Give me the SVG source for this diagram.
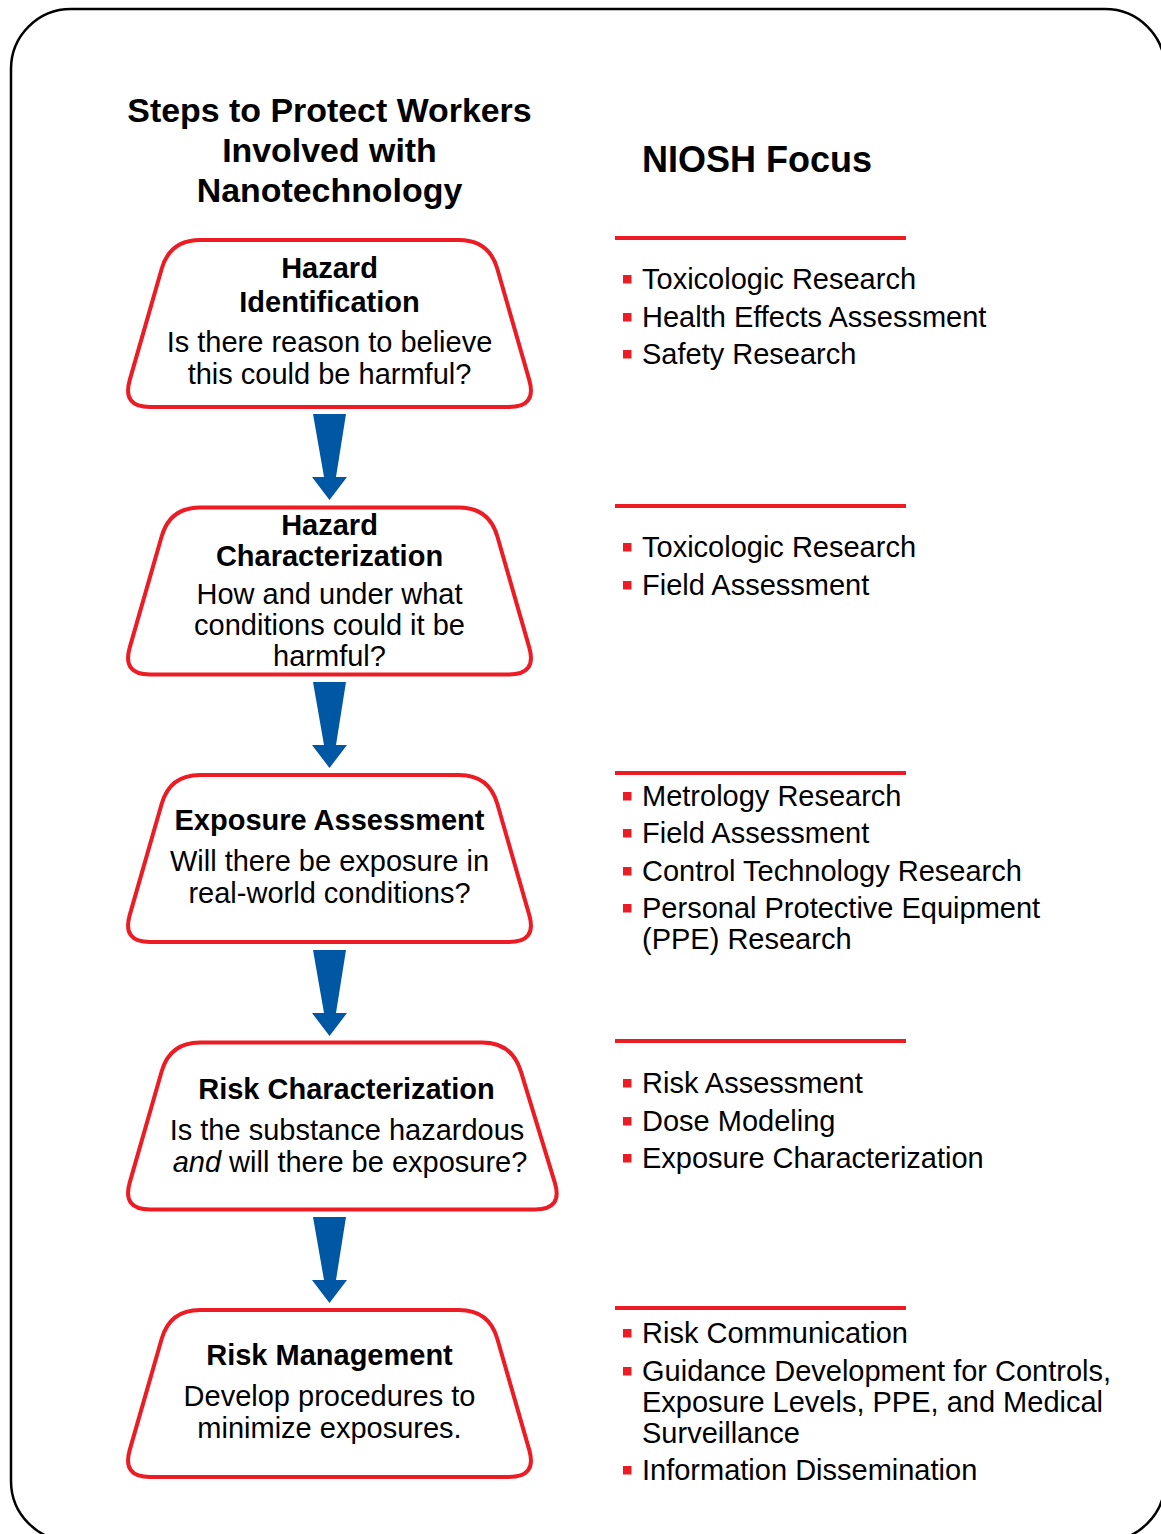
<svg xmlns="http://www.w3.org/2000/svg" xmlns:xlink="http://www.w3.org/1999/xlink" width="1161" height="1534" viewBox="0 0 1161 1534">
<style>
text{font-family:"Liberation Sans",Arial,sans-serif;fill:#000}
.t{font-size:29px;text-anchor:middle}
.b{font-weight:bold}
.h{font-size:33.9px;font-weight:bold;text-anchor:middle}
.bl{font-size:29px}
.node{fill:#fff;stroke:#ED1C24;stroke-width:4;stroke-linejoin:round}
.arr{fill:#0057A3}
.rule{stroke:#ED1C24;stroke-width:4}
.sq{fill:#ED1C24}
</style>
<defs>
<path id="trap" d="M200,240 L459,240 Q489,240 497.3,268.8 L529.3,380.1 Q537,407 509,407 L150,407 Q122,407 129.7,380.1 L161.7,268.8 Q170,240 200,240 Z"/>
<polygon id="arrow" points="313,414 346,414 336,477 347,477 329.5,500 312,477 324,477"/>
<rect id="sqr" x="623" width="8.5" height="8.5"/>
</defs>
<rect x="11" y="9" width="1154" height="1532" rx="60" ry="60" fill="#fff" stroke="#000" stroke-width="2.5"/>

<g id="headings">
<text class="h" x="329.5" y="122">Steps to Protect Workers</text>
<text class="h" x="329.5" y="162">Involved with</text>
<text class="h" x="329.5" y="202">Nanotechnology</text>
<text x="642" y="172" style="font-size:36px;font-weight:bold">NIOSH Focus</text>
</g>

<g id="connectors">
<use xlink:href="#arrow" class="arr"/>
<use xlink:href="#arrow" class="arr" y="268"/>
<use xlink:href="#arrow" class="arr" y="536"/>
<use xlink:href="#arrow" class="arr" y="803"/>
</g>

<g id="node1">
<use xlink:href="#trap" class="node"/>
<text class="t b" x="329.5" y="278">Hazard</text>
<text class="t b" x="329.5" y="312">Identification</text>
<text class="t" x="329.5" y="352">Is there reason to believe</text>
<text class="t" x="329.5" y="384">this could be harmful?</text>
</g>

<g id="node2">
<use xlink:href="#trap" class="node" y="267.5"/>
<text class="t b" x="329.5" y="535">Hazard</text>
<text class="t b" x="329.5" y="566">Characterization</text>
<text class="t" x="329.5" y="604">How and under what</text>
<text class="t" x="329.5" y="635">conditions could it be</text>
<text class="t" x="329.5" y="666">harmful?</text>
</g>

<g id="node3">
<use xlink:href="#trap" class="node" y="535"/>
<text class="t b" x="329.5" y="830">Exposure Assessment</text>
<text class="t" x="329.5" y="871">Will there be exposure in</text>
<text class="t" x="329.5" y="903">real-world conditions?</text>
</g>

<g id="node4">
<path class="node" d="M200,1042.5 L482,1042.5 Q512,1042.5 520.8,1071.2 L554.8,1182.7 Q563,1209.5 535,1209.5 L150,1209.5 Q122,1209.5 129.7,1182.6 L161.7,1071.3 Q170,1042.5 200,1042.5 Z"/>
<text class="t b" x="346.5" y="1099">Risk Characterization</text>
<text class="t" x="347" y="1140">Is the substance hazardous</text>
<text class="t" x="350" y="1172"><tspan font-style="italic">and</tspan> will there be exposure?</text>
</g>

<g id="node5">
<use xlink:href="#trap" class="node" y="1070"/>
<text class="t b" x="329.5" y="1365">Risk Management</text>
<text class="t" x="329.5" y="1406">Develop procedures to</text>
<text class="t" x="329.5" y="1438">minimize exposures.</text>
</g>

<g id="focus1">
<line class="rule" x1="615" y1="238" x2="906" y2="238"/>
<use xlink:href="#sqr" class="sq" y="275"/>
<text class="bl" x="642" y="289">Toxicologic Research</text>
<use xlink:href="#sqr" class="sq" y="313"/>
<text class="bl" x="642" y="327">Health Effects Assessment</text>
<use xlink:href="#sqr" class="sq" y="350"/>
<text class="bl" x="642" y="364">Safety Research</text>
</g>

<g id="focus2">
<line class="rule" x1="615" y1="506" x2="906" y2="506"/>
<use xlink:href="#sqr" class="sq" y="543"/>
<text class="bl" x="642" y="557">Toxicologic Research</text>
<use xlink:href="#sqr" class="sq" y="581"/>
<text class="bl" x="642" y="595">Field Assessment</text>
</g>

<g id="focus3">
<line class="rule" x1="615" y1="773" x2="906" y2="773"/>
<use xlink:href="#sqr" class="sq" y="792"/>
<text class="bl" x="642" y="806">Metrology Research</text>
<use xlink:href="#sqr" class="sq" y="829"/>
<text class="bl" x="642" y="843">Field Assessment</text>
<use xlink:href="#sqr" class="sq" y="867"/>
<text class="bl" x="642" y="881">Control Technology Research</text>
<use xlink:href="#sqr" class="sq" y="904"/>
<text class="bl" x="642" y="918">Personal Protective Equipment</text>
<text class="bl" x="642" y="949">(PPE) Research</text>
</g>

<g id="focus4">
<line class="rule" x1="615" y1="1041" x2="906" y2="1041"/>
<use xlink:href="#sqr" class="sq" y="1079"/>
<text class="bl" x="642" y="1093">Risk Assessment</text>
<use xlink:href="#sqr" class="sq" y="1117"/>
<text class="bl" x="642" y="1131">Dose Modeling</text>
<use xlink:href="#sqr" class="sq" y="1154"/>
<text class="bl" x="642" y="1168">Exposure Characterization</text>
</g>

<g id="focus5">
<line class="rule" x1="615" y1="1308" x2="906" y2="1308"/>
<use xlink:href="#sqr" class="sq" y="1329"/>
<text class="bl" x="642" y="1343">Risk Communication</text>
<use xlink:href="#sqr" class="sq" y="1367"/>
<text class="bl" x="642" y="1381">Guidance Development for Controls,</text>
<text class="bl" x="642" y="1412">Exposure Levels, PPE, and Medical</text>
<text class="bl" x="642" y="1443">Surveillance</text>
<use xlink:href="#sqr" class="sq" y="1466"/>
<text class="bl" x="642" y="1480">Information Dissemination</text>
</g>
</svg>
